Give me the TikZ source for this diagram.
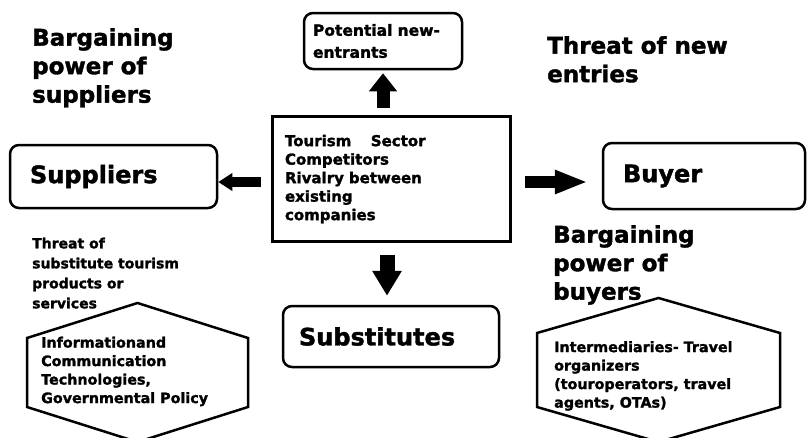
\documentclass[tikz,border=0pt]{standalone}
\usepackage{fontspec}
\setmainfont{DejaVu Sans}[BoldFont={DejaVu Sans Bold},BoldFeatures={FakeBold=1.6}]
\usepackage{tikz}
\usetikzlibrary{arrows.meta}
\usetikzlibrary{calc}
\def\hexbox[#1](#2)(#3:#4:#5){\draw[#1] ($(#2)+(0,{-#4-#5})$) -- ($(#2)+(#3,-#4)$) -- ($(#2)+(#3,#4)$) -- ($(#2)+(0,{#4+#5})$) -- ($(#2)+(-#3,#4)$) -- ($(#2)+(-#3,-#4)$) -- cycle}

\begin{document}
\begin{tikzpicture}[x=1pt,y=-1pt,
        rbox/.style={draw,line width=2.5pt,rounded corners=9pt,align=left,inner ysep=0pt},
        head/.style={anchor=north west,inner sep=0pt,align=left,font=\bfseries\fontsize{23}{28.5}\selectfont},
        note/.style={anchor=north west,inner sep=0pt,align=left,font=\bfseries\fontsize{14}{20}\selectfont},
        hextext/.style={anchor=north west,inner sep=0pt,align=left,font=\bfseries\fontsize{14.3}{18.5}\selectfont},
        fat/.style n args={3}{line width=#1,-{Triangle[width=#2,length=#3]}}]
        \useasboundingbox (0,0) rectangle (808,437);

        %%% BOXES %%%
        \node[draw,line width=3pt,minimum width=238pt,minimum height=125pt,text width=212pt,inner xsep=13pt,inner ysep=0pt,align=left,
              font=\bfseries\fontsize{15}{18.5}\selectfont] (centre) at (391,179) {Tourism\hspace{1.3em}Sector\\Competitors\\Rivalry between\\existing\\companies};
        \node[rbox,minimum width=158pt,minimum height=56pt,text width=140pt,inner xsep=9pt,
              font=\bfseries\fontsize{15.5}{22}\selectfont] (entrants) at (383,41) {Potential new-\\entrants};
        \node[rbox,minimum width=207pt,minimum height=63pt,text width=167pt,inner xsep=20pt,
              font=\bfseries\fontsize{24}{28}\selectfont] (suppliers) at (113.5,176.5) {Suppliers};
        \node[rbox,minimum width=202pt,minimum height=66pt,text width=162pt,inner xsep=20pt,
              font=\bfseries\fontsize{24}{28}\selectfont] (buyer) at (704,176) {Buyer};
        \node[rbox,minimum width=216pt,minimum height=61pt,text width=184pt,inner xsep=16pt,
              font=\bfseries\fontsize{24}{28}\selectfont] (substitutes) at (391,336.5) {Substitutes};

        %%% ARROWS %%%
        \draw[fat={13pt}{27pt}{18pt},shorten <=7pt,shorten >=3pt] (entrants.south |- centre.north) -- (entrants.south);
        \draw[fat={10pt}{17pt}{14pt},shorten <=10pt] ([yshift=-3pt]centre.west) -- ([yshift=-5.5pt]suppliers.east);
        \draw[fat={12pt}{22pt}{33pt},shorten <=13pt,shorten >=14pt] ([yshift=-3pt]centre.east) -- ([yshift=-6pt]buyer.west);
        \draw[fat={15pt}{28pt}{25pt},shorten <=12pt,shorten >=9pt] ([xshift=-4pt]centre.south) -- ([xshift=-4pt]substitutes.north);

        %%% HEXAGONS %%%
        \hexbox[line width=2.5pt,line join=miter](137.5,372.5)(110.5:34.5:35);
        \hexbox[line width=2.5pt,line join=miter](658.5,370)(121.5:37:35);
        \node[hextext] (ict) at (41,336.5) {Informationand\\Communication\\Technologies,\\Governmental Policy};
        \node[hextext] (otas) at (554,341) {Intermediaries- Travel\\organizers\\(touroperators, travel\\agents, OTAs)};

        %%% LABELS %%%
        \node[head] (bps) at (32,28) {Bargaining\\power of\\suppliers};
        \node[head] (tne) at (547,36) {Threat of new\\entries};
        \node[head] (bpb) at (553,225) {Bargaining\\power of\\buyers};
        \node[note] (tst) at (32,237.5) {Threat of\\substitute tourism\\products or\\services};
\end{tikzpicture}
\end{document}
